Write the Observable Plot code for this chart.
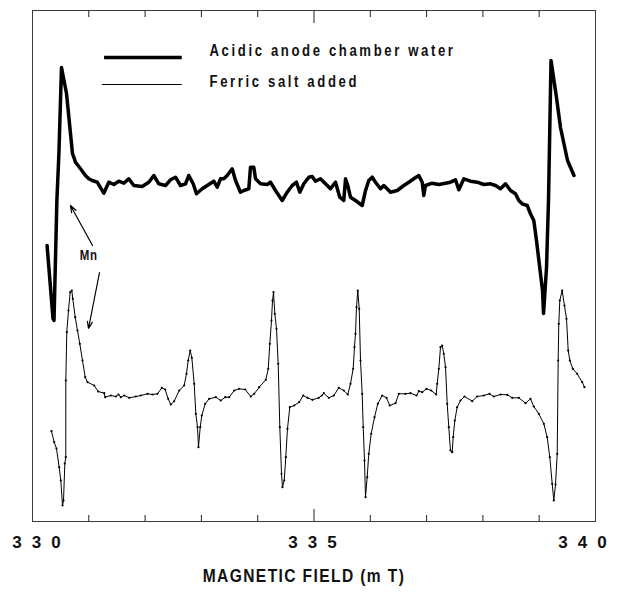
<!DOCTYPE html>
<html>
<head>
<meta charset="utf-8">
<script src="https://cdn.jsdelivr.net/npm/d3@7"></script>
<script src="https://cdn.jsdelivr.net/npm/@observablehq/plot@0.6"></script>
<style>
  html, body { margin: 0; padding: 0; background: #fff; }
  .epr text { font-family: "Liberation Sans", Arial, sans-serif; }
  .epr g[aria-label="x-axis tick label"] text { letter-spacing: 10px; }
</style>
</head>
<body>
<div id="chart"></div>
<script>
// ---- Data (x: magnetic field in mT, y: signal in arbitrary units) ----
const thickField = [330.259,330.364,330.382,330.433,330.469,330.515,330.604,330.710,330.764,330.853,330.941,331.000,331.060,331.149,331.266,331.355,331.444,331.533,331.622,331.710,331.799,331.948,332.066,332.155,332.243,332.362,332.451,332.540,332.629,332.718,332.776,332.854,332.913,333.014,333.103,333.220,333.281,333.339,333.398,333.458,333.547,333.606,333.694,333.753,333.842,333.872,333.931,333.961,334.050,334.169,334.227,334.316,334.435,334.524,334.613,334.689,334.748,334.819,334.908,334.968,335.027,335.115,335.204,335.293,335.382,335.458,335.529,335.560,335.600,335.648,335.737,335.856,335.915,335.973,336.034,336.092,336.181,336.240,336.359,336.478,336.595,336.684,336.773,336.862,336.922,336.950,336.980,337.099,337.216,337.336,337.424,337.513,337.572,337.661,337.780,337.899,338.016,338.135,338.224,338.313,338.401,338.490,338.579,338.638,338.698,338.787,338.845,338.904,338.952,338.988,339.059,339.077,339.130,339.165,339.210,339.307,339.378,339.503,339.618];
const thickSignal = [276,203,201,321,368,454,428,368,359.3,352.7,346,342.7,341,339.3,328.3,339.3,337,340.3,338.3,342.7,336,335,339.3,346,337.7,336,341.7,344.3,336,337.7,346,337.7,327.7,332.7,336,340.3,334.3,342.7,342.7,346,352.7,341,329.3,331,332.7,354.3,354.3,342.7,337.7,337,339.3,331,321,329.3,336,339.3,329.3,337.7,344.3,345,340.3,342.7,337.7,332.7,339.3,324.3,321,342.7,336,324.3,321,316,331,341,344.3,339.3,332.7,336,329.3,331,336,339.3,342.7,346,339.3,326,336,338.3,337,338.3,339.3,341.7,331.7,342.7,340.3,339.3,337,337.7,336,332.7,337.7,331,327.7,321,317.7,316,307.7,301,281,264,231,208,254,321,461,424,394,361,346];

const thinField = [330.337,330.385,330.426,330.474,330.503,330.533,330.551,330.574,330.591,330.592,330.609,330.639,330.670,330.698,330.716,330.758,330.799,330.840,330.888,330.936,330.977,331.096,331.167,331.274,331.291,331.391,331.480,331.528,331.568,331.629,331.718,331.835,331.924,332.043,332.131,332.220,332.297,332.357,332.410,332.456,332.517,332.606,332.694,332.735,332.766,332.801,332.830,332.872,332.901,332.931,332.948,332.979,333.007,333.067,333.138,333.256,333.345,333.423,333.494,333.583,333.671,333.778,333.877,333.938,334.027,334.144,334.187,334.215,334.245,334.263,334.281,334.304,334.334,334.364,334.393,334.423,334.440,334.471,334.499,334.529,334.570,334.648,334.737,334.808,334.885,334.973,335.085,335.139,335.174,335.263,335.352,335.440,335.529,335.600,335.648,335.696,335.719,335.737,335.755,335.778,335.803,335.826,335.856,335.874,335.897,335.915,335.945,335.973,336.016,336.075,336.133,336.211,336.288,336.346,336.448,336.506,336.625,336.714,336.821,336.862,336.922,336.998,337.082,337.170,337.188,337.217,337.247,337.277,337.305,337.336,337.366,337.394,337.424,337.455,337.472,337.501,337.543,337.602,337.673,337.810,337.899,338.016,338.117,338.194,338.313,338.432,338.520,338.638,338.757,338.845,338.904,338.993,339.082,339.142,339.188,339.231,339.259,339.290,339.320,339.337,339.348,339.366,339.408,339.449,339.485,339.515,339.544,339.597,339.675,339.764,339.804];
const thinSignal = [90.3,79.3,73,54.3,41,16,21,58,64.3,141,189.3,211,229.3,231,222.7,204.3,191,177.7,161,144.3,139.3,136,130,128.3,124.3,126,125,127,124.3,126,123.7,125,126,127.7,127,127.7,133.7,132,122.7,117,120.3,131,136,147.7,161,171,163.7,137.7,107.7,94.3,74.3,94.3,106,117.7,122.7,124.3,121,124.3,124.3,131,132.7,132,125,127.7,134.3,141.7,152.7,177.7,201,221,229.3,207.7,192.7,157.7,94.3,47.7,34.3,41,64.3,92.7,114.3,116,119.3,126,123.7,121.7,123.7,126,128.3,123.7,126,133.7,131,127,137.7,152.7,174.3,187.7,214.3,231,212.7,161,127.7,94.3,61,24.3,44.3,67.7,87.7,104.3,117.7,126,123.7,116,118.3,127.7,127.7,128.3,126,130.3,129.3,132.7,131,127,137.7,152.7,174.3,176,167.7,154.3,117.7,94.3,71,69.3,84.3,101,114.3,121,125,120.3,125,126,127.7,125,127,126.7,123.7,123.7,118.3,122.7,115,107.7,97.7,84.3,64.3,37.7,21,37,67.7,161,197.7,221,231,216,202.7,171,161,152.7,147.7,139.3,134.3];

const seriesNames = ["Acidic anode chamber water", "Ferric salt added"];
const tickLabels = [330, 335, 340];
const minorTicks = [331, 332, 333, 334, 336, 337, 338, 339];
const majorTicks = [335];
const axisTitle = "MAGNETIC FIELD (m T)";

// legend key positions (data units) and annotation
const legendLineX = [[331.28, 332.66], [331.24, 332.66]];
const legendY = [464, 437];
const legendTextX = 333.144;
const legendTextY = [466, 435];
const mnLabel = {text: "Mn", x: 331.0, y: 262};
const mnArrows = [
  {x1: 331.066, y1: 276, x2: 330.675, y2: 316},
  {x1: 331.19, y1: 249, x2: 330.995, y2: 193}
];

const thick = thickField.map((f, i) => ({field: f, signal: thickSignal[i]}));
const thin = thinField.map((f, i) => ({field: f, signal: thinSignal[i]}));
const legendRows = seriesNames.map((name, i) => ({
  name, x1: legendLineX[i][0], x2: legendLineX[i][1], y: legendY[i], ty: legendTextY[i], w: i === 0 ? 3.5 : 1
}));

const labelOffsets = [9, 3.5, -8];

const chart = Plot.plot({
  width: 618,
  height: 592,
  marginLeft: 32,
  marginRight: 23,
  marginTop: 10,
  marginBottom: 71,
  className: "epr",
  x: {domain: [330, 340]},
  y: {domain: [0, 511], axis: null},
  marks: [
    Plot.frame({stroke: "#3a3a3a", strokeWidth: 1}),
    // inward ticks bottom / top
    Plot.ruleX(minorTicks, {x: d => d, y1: 0, y2: 6, stroke: "#222"}),
    Plot.ruleX(minorTicks, {x: d => d, y1: 504, y2: 511, stroke: "#222"}),
    Plot.ruleX(majorTicks, {x: d => d, y1: 0, y2: 12, stroke: "#222"}),
    Plot.ruleX(majorTicks, {x: d => d, y1: 498, y2: 511, stroke: "#222"}),
    ...tickLabels.map((t, i) => Plot.axisX({ticks: [t], tickSize: 0, tickPadding: 14, fontSize: 17, fontWeight: "bold", label: null, tickFormat: d => String(d), dx: labelOffsets[i], fill: "#111"})),
    Plot.text([axisTitle], {frameAnchor: "bottom", dy: 60, dx: -10, fontSize: 19, fontWeight: "bold", lineAnchor: "middle", fill: "#111"}),
    // data
    Plot.line(thick, {x: "field", y: "signal", stroke: "#000", strokeWidth: 3.5, strokeLinejoin: "round", strokeLinecap: "round"}),
    Plot.line(thin, {x: "field", y: "signal", stroke: "#000", strokeWidth: 1}),
    Plot.dot(thin, {x: "field", y: "signal", r: 1.1, fill: "#000", stroke: null}),
    // legend
    Plot.ruleY(legendRows, {y: "y", x1: "x1", x2: "x2", strokeWidth: "w", stroke: "#000"}),
    Plot.text(legendRows, {x: () => legendTextX, y: "ty", text: "name", textAnchor: "start", lineAnchor: "middle", fontSize: 16, fontWeight: "bold", fill: "#111"}),
    // Mn annotation
    Plot.text([mnLabel], {x: "x", y: "y", text: "text", fontSize: 14, fontWeight: "bold", lineAnchor: "middle", fill: "#111"}),
    Plot.arrow(mnArrows, {x1: "x1", y1: "y1", x2: "x2", y2: "y2", headLength: 9, headAngle: 40, stroke: "#000", strokeWidth: 1.2})
  ]
});

// condensed, letter-spaced lettering like the original plotter font
const spacing = new Map([[axisTitle, 1.7], [mnLabel.text, 1], ...seriesNames.map(n => [n, 3.2])]);
d3.select(chart).selectAll("text").each(function() {
  const t = this.textContent;
  if (!spacing.has(t)) return;
  this.style.letterSpacing = spacing.get(t) + "px";
  const tr = this.getAttribute("transform") || "";
  const x = +this.getAttribute("x") || 0, y = +this.getAttribute("y") || 0;
  this.removeAttribute("x");
  this.removeAttribute("y");
  this.setAttribute("transform", `${tr} translate(${x},${y}) scale(0.82,1)`);
});
document.getElementById("chart").appendChild(chart);
</script>
</body>
</html>
